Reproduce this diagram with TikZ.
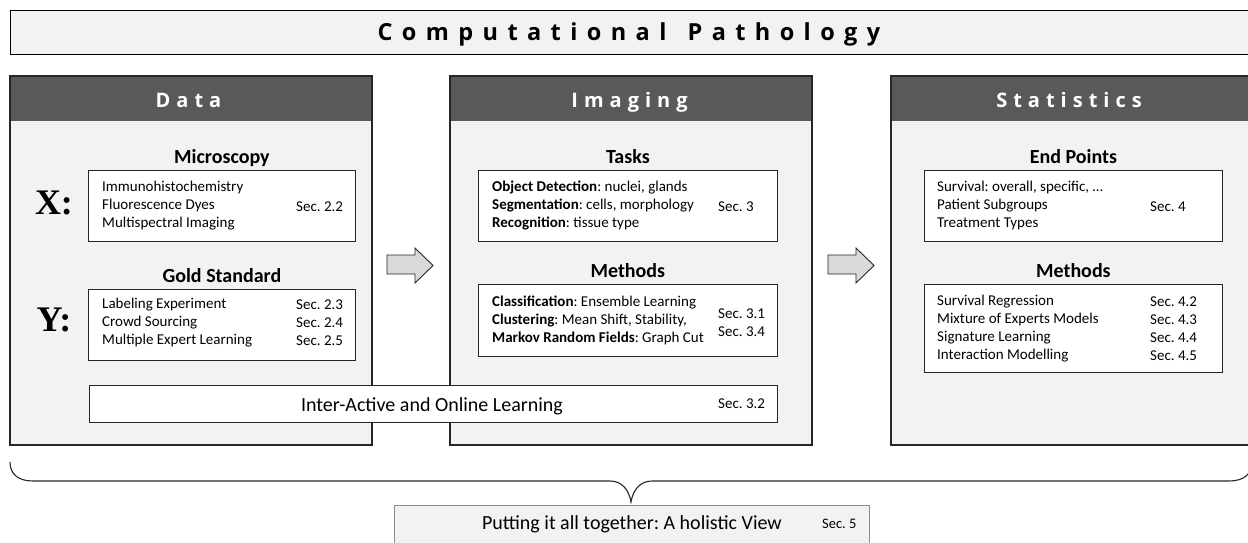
\documentclass[tikz,border=0pt]{standalone}
\usepackage{fontspec}
\setmainfont{Carlito}
\newfontfamily\headfont[LetterSpace=40]{Open Sans}
\newfontfamily\subheadfont[LetterSpace=30]{Open Sans}
\newfontfamily\xyfont{Liberation Serif}
\frenchspacing
\definecolor{panelbg}{HTML}{F2F2F2}
\definecolor{headbg}{HTML}{595959}
\definecolor{edge}{HTML}{262626}
\definecolor{arrowfill}{HTML}{D9D9D9}
\definecolor{softedge}{HTML}{8C8C8C}
\tikzset{
  titlebox/.style={draw=black, fill=panelbg, line width=1.3pt, inner sep=0pt, anchor=north west},
  titletext/.style={font=\headfont\bfseries\fontsize{23.5}{26}\selectfont, text=black, inner sep=0pt, anchor=base},
  panel/.style={draw=edge, fill=panelbg, line width=1.3pt, inner sep=0pt, anchor=north west, minimum width=361, minimum height=368},
  header/.style={fill=headbg, inner sep=0pt, anchor=north west, minimum width=361, minimum height=45},
  headertext/.style={text=white, font=\subheadfont\bfseries\fontsize{20}{22}\selectfont, inner sep=0pt, anchor=base},
  innerbox/.style={draw=edge, fill=white, line width=0.8pt, inner sep=0pt, anchor=north west},
  boxhead/.style={font=\bfseries\fontsize{20}{22}\selectfont, inner sep=0pt, anchor=base},
  lines/.style={font=\fontsize{15}{18}\selectfont, align=left, inner sep=0pt, anchor=west},
  seclabel/.style={font=\fontsize{15}{18}\selectfont, align=left, inner sep=0pt, anchor=west},
  xylabel/.style={font=\xyfont\bfseries\fontsize{36}{40}\selectfont, inner sep=0pt},
  blockarrow/.style={draw=edge, fill=arrowfill, line width=0.9pt, line join=miter},
  bracepath/.style={draw=edge, line width=1.1pt},
}
\begin{document}
\begin{tikzpicture}[x=1pt,y=-1pt]
\clip (0,0) rectangle (1248,543);
\fill[white] (0,0) rectangle (1248,543);

% title
\node[titlebox, minimum width=1242, minimum height=44] (title) at (10,10) {};
\node[titletext] (titletext) at (629,41) {Computational\hspace{0.9em}Pathology};

% panels
\node[panel] (data) at (10,76) {};
\node[header] (datahead) at (10,76) {};
\node[headertext] (dataheadtext) at (188.5,107.5) {Data};
\node[panel] (imaging) at (450,76) {};
\node[header] (imaginghead) at (450,76) {};
\node[headertext] (imagingheadtext) at (629.5,107.5) {Imaging};
\node[panel] (stats) at (891,76) {};
\node[header] (statshead) at (891,76) {};
\node[headertext] (statsheadtext) at (1069,107.5) {Statistics};
\draw[draw=edge, line width=1.3pt] (data.north west) rectangle (data.south east);
\draw[draw=edge, line width=1.3pt] (imaging.north west) rectangle (imaging.south east);
\draw[draw=edge, line width=1.3pt] (stats.north west) rectangle (stats.south east);

% Data panel
\node[innerbox, minimum width=267, minimum height=71] (micro) at (88,170) {};
\node[boxhead] (microhead) at ([yshift=7pt]micro.north) {Microscopy};
\node[lines] (microtext) at (102,205.5) {Immunohistochemistry\\Fluorescence Dyes\\Multispectral Imaging};
\node[seclabel] (microsec) at (296,207) {Sec. 2.2};
\node[xylabel] (xlab) at (54,203) {X:};

\node[innerbox, minimum width=267, minimum height=71] (gold) at (88,289) {};
\node[boxhead] (goldhead) at ([yshift=7pt]gold.north) {Gold Standard};
\node[lines] (goldtext) at (102,323) {Labeling Experiment\\Crowd Sourcing\\Multiple Expert Learning};
\node[lines] (goldsec) at (296,323) {Sec. 2.3\\Sec. 2.4\\Sec. 2.5};
\node[xylabel] (ylab) at (54,320) {Y:};

% interactive
\node[innerbox, minimum width=688, minimum height=37] (inter) at (89,385) {};
\node[font=\fontsize{20}{22}\selectfont, inner sep=0pt, anchor=base] (intertext) at (432,411) {Inter-Active and Online Learning};
\node[seclabel] (intersec) at (718,404) {Sec. 3.2};

% Imaging panel
\node[innerbox, minimum width=299, minimum height=71] (tasks) at (478,170) {};
\node[boxhead] (taskshead) at ([yshift=7pt]tasks.north) {Tasks};
\node[lines] (taskstext) at (492,205.5) {\textbf{Object Detection}: nuclei, glands\\\textbf{Segmentation}: cells, morphology\\\textbf{Recognition}: tissue type};
\node[seclabel] (taskssec) at (718,207) {Sec. 3};

\node[innerbox, minimum width=299, minimum height=72] (imeth) at (478,284) {};
\node[boxhead] (imethhead) at ([yshift=7pt]imeth.north) {Methods};
\node[lines] (imethtext) at (492,320) {\textbf{Classification}: Ensemble Learning\\\textbf{Clustering}: Mean Shift, Stability,\\\textbf{Markov Random Fields}: Graph Cut};
\node[lines] (imethsec) at (718,323) {Sec. 3.1\\Sec. 3.4};

% Statistics panel
\node[innerbox, minimum width=298, minimum height=71] (endp) at (924,170) {};
\node[boxhead] (endphead) at ([yshift=7pt]endp.north) {End Points};
\node[lines] (endptext) at (937,205.5) {Survival: overall, specific, \dots\\Patient Subgroups\\Treatment Types};
\node[seclabel] (endpsec) at (1150,207) {Sec. 4};

\node[innerbox, minimum width=298, minimum height=88] (smeth) at (924,284) {};
\node[boxhead] (smethhead) at ([yshift=7pt]smeth.north) {Methods};
\node[lines] (smethtext) at (937,329) {Survival Regression\\Mixture of Experts Models\\Signature Learning\\Interaction Modelling};
\node[lines] (smethsec) at (1150,329) {Sec. 4.2\\Sec. 4.3\\Sec. 4.4\\Sec. 4.5};

% block arrows
\draw[blockarrow] (387,255) -- (415,255) -- (415,248) -- (433,265.5) -- (415,283) -- (415,274) -- (387,274) -- cycle;
\draw[blockarrow] (828,255) -- (856,255) -- (856,248) -- (874,265.5) -- (856,283) -- (856,274) -- (828,274) -- cycle;

% brace
\coordinate (braceL) at (10,462);
\coordinate (braceTip) at (631,502);
\coordinate (braceR) at (1252,462);
\draw[bracepath] (braceL) .. controls (10,474) and (18,481) .. (33,481) -- (610,481)
  .. controls (622,481) and (629,490) .. (braceTip)
  .. controls (633,490) and (640,481) .. (652,481) -- (1229,481)
  .. controls (1244,481) and (1252,474) .. (braceR);

% bottom box
\node[draw=softedge, fill=panelbg, line width=0.8pt, inner sep=0pt, anchor=north west, minimum width=475, minimum height=60] (together) at (394,505) {};
\node[font=\fontsize{20}{22}\selectfont, inner sep=0pt, anchor=base east] (togethertext) at (782,529) {Putting it all together: A holistic View};
\node[font=\fontsize{14.5}{16}\selectfont, inner sep=0pt, anchor=base west] (togethersec) at (822,528) {Sec. 5};
\end{tikzpicture}
\end{document}
